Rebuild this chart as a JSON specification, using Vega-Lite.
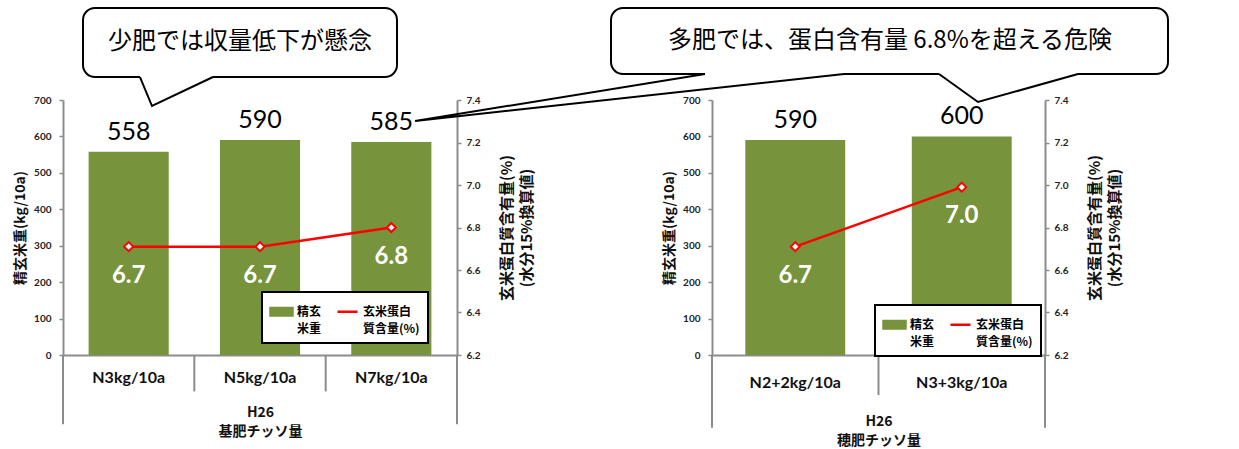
{
  "$schema": "https://vega.github.io/schema/vega-lite/v6.json",
  "background": "white",
  "padding": {"left": 13, "top": 7, "right": 5, "bottom": 5},
  "bounds": "flush",
  "spacing": 255,
  "config": {"view": {"stroke": null}, "axis": {"grid": false}},
  "resolve": {"scale": {"color": "independent"}, "legend": {"color": "independent"}},
  "hconcat": [
    {
      "width": 394,
      "height": 255,
      "data": {"values": [
        {"cat": "N3kg/10a", "yield": 558, "protein": 6.71, "plabel": "6.7"},
        {"cat": "N5kg/10a", "yield": 590, "protein": 6.71, "plabel": "6.7"},
        {"cat": "N7kg/10a", "yield": 585, "protein": 6.80, "plabel": "6.8"}
      ]},
      "layer": [
        {
          "encoding": {"x": {"field": "cat", "type": "nominal", "sort": null,
            "scale": {"paddingInner": 0.39, "paddingOuter": 0.195},
            "axis": {"title": ["H26", "基肥チッソ量"], "labelAngle": 0, "ticks": false, "tickSize": 0, "labelPadding": 14,
              "labelFont": "Lato", "labelFontWeight": "bold", "labelFontSize": 16, "labelColor": "#111",
              "domainColor": "#8c8c8c", "domainWidth": 2,
              "titleFont": "Noto Sans CJK JP", "titleFontSize": 14, "titleFontWeight": "bold", "titleColor": "#111", "titlePadding": 20, "titleLineHeight": 19}}},
          "resolve": {"scale": {"y": "independent"}},
          "layer": [
            {"layer": [
              {"mark": {"type": "bar"},
               "encoding": {
                 "y": {"field": "yield", "type": "quantitative", "scale": {"domain": [0, 700], "nice": false},
                   "axis": {"orient": "left", "values": [0, 100, 200, 300, 400, 500, 600, 700], "labelOverlap": false, "title": "精玄米重(kg/10a)",
                     "domainColor": "#8c8c8c", "domainWidth": 2, "tickColor": "#8c8c8c", "tickWidth": 1.5, "tickSize": 4,
                     "labelFont": "Lato", "labelFontWeight": "bold", "labelFontSize": 10, "labelColor": "#222", "labelPadding": 8,
                     "titleFont": "Noto Sans CJK JP", "titleFontSize": 14, "titleFontWeight": "bold", "titleColor": "#111", "titlePadding": 6}},
                 "color": {"datum": "精玄米重", "scale": {"domain": ["精玄米重", "玄米蛋白質含量(%)"], "range": ["#77933C", "#FF0000"]},
                   "legend": {"orient": "none", "legendX": 199, "legendY": 192, "direction": "horizontal", "columns": 2, "title": null,
                     "strokeColor": "black", "padding": 8, "fillColor": "white", "columnPadding": 10,
                     "labelFont": "Noto Sans CJK JP", "labelFontWeight": "bold", "labelFontSize": 12, "labelColor": "black",
                     "labelExpr": "datum.label == '精玄米重' ? ['精玄','米重'] : ['玄米蛋白','質含量(%)']",
                     "symbolSize": 400,
                     "encode": {
                       "legend": {"update": {"strokeWidth": {"value": 2}}},
                       "labels": {"update": {"lineHeight": {"value": 17}}},
                       "symbols": {"update": {
                         "shape": {"signal": "datum.value == '精玄米重' ? 'M-1.1,-0.38H1.1V0.38H-1.1Z' : 'stroke'"},
                         "fill": {"signal": "datum.value == '精玄米重' ? '#77933C' : 'transparent'"},
                         "stroke": {"signal": "datum.value == '精玄米重' ? 'transparent' : '#FF0000'"},
                         "strokeWidth": {"value": 2.5}}}}}}}},
              {"mark": {"type": "text", "baseline": "alphabetic", "dy": -12, "fontSize": 25, "font": "Lato", "color": "black"},
               "encoding": {
                 "y": {"field": "yield", "type": "quantitative",
                   "axis": {"orient": "left", "values": [0, 100, 200, 300, 400, 500, 600, 700], "labelOverlap": false, "title": "精玄米重(kg/10a)",
                     "domainColor": "#8c8c8c", "domainWidth": 2, "tickColor": "#8c8c8c", "tickWidth": 1.5, "tickSize": 4,
                     "labelFont": "Lato", "labelFontWeight": "bold", "labelFontSize": 10, "labelColor": "#222", "labelPadding": 8,
                     "titleFont": "Noto Sans CJK JP", "titleFontSize": 14, "titleFontWeight": "bold", "titleColor": "#111", "titlePadding": 6}},
                 "text": {"field": "yield", "type": "quantitative"}}}
            ]},
            {"layer": [
              {"mark": {"type": "line", "strokeWidth": 2.5},
               "encoding": {
                 "y": {"field": "protein", "type": "quantitative", "scale": {"domain": [6.2, 7.4], "nice": false, "zero": false},
                   "axis": {"orient": "right", "values": [6.2, 6.4, 6.6, 6.8, 7.0, 7.2, 7.4], "format": ".1f", "labelOverlap": false,
                     "title": ["玄米蛋白質含有量(%)", "(水分15%換算値)"], "titleAngle": 270, "titleBaseline": "top",
                     "domainColor": "#8c8c8c", "domainWidth": 2, "tickColor": "#8c8c8c", "tickWidth": 1.5, "tickSize": 4,
                     "labelFont": "Lato", "labelFontWeight": "bold", "labelFontSize": 10, "labelColor": "#222", "labelPadding": 5,
                     "titleFont": "Noto Sans CJK JP", "titleFontSize": 15, "titleFontWeight": "bold", "titleColor": "#111", "titlePadding": 0, "titleLineHeight": 20}},
                 "color": {"datum": "玄米蛋白質含量(%)"}}},
              {"mark": {"type": "point", "shape": "diamond", "filled": true, "fill": "white", "stroke": "#FF0000", "strokeWidth": 2, "size": 80, "opacity": 1},
               "encoding": {"y": {"field": "protein", "type": "quantitative"}}},
              {"mark": {"type": "text", "color": "white", "fontSize": 24, "fontWeight": "bold", "font": "Lato", "dy": 29},
               "encoding": {"y": {"field": "protein", "type": "quantitative"}, "text": {"field": "plabel"}}}
            ]}
          ]
        },
        {
          "layer": [
            {"data": {"values": [
              {"ax": 0, "ay": 0, "ay2": -190}, {"ax": 1, "ay": 0, "ay2": -100},
              {"ax": 2, "ay": 0, "ay2": -100}, {"ax": 3, "ay": 0, "ay2": -190}]},
             "mark": {"type": "rule", "color": "#8c8c8c", "strokeWidth": 2},
             "encoding": {
               "x": {"field": "ax", "type": "quantitative", "scale": {"domain": [0, 3], "nice": false, "zero": false}, "axis": null},
               "y": {"field": "ay", "type": "quantitative", "scale": {"domain": [0, 700], "nice": false, "zero": false}, "axis": null},
               "y2": {"field": "ay2"}}},
            {"data": {"values": [{"bx": 0.1523, "bx2": 2.5431, "by": 763.1, "by2": 952.5}]},
             "mark": {"type": "rect", "fill": "white", "stroke": "black", "strokeWidth": 2, "cornerRadius": 12},
             "encoding": {
               "x": {"field": "bx", "type": "quantitative", "axis": null}, "x2": {"field": "bx2"},
               "y": {"field": "by", "type": "quantitative", "axis": null}, "y2": {"field": "by2"}}},
            {"data": {"values": [{"cx": 0.5863, "cx2": 1.1421, "cy": 763.1}]},
             "mark": {"type": "rule", "color": "white", "strokeWidth": 4},
             "encoding": {
               "x": {"field": "cx", "type": "quantitative", "axis": null}, "x2": {"field": "cx2"},
               "y": {"field": "cy", "type": "quantitative", "axis": null}}},
            {"data": {"values": [
              {"g": "a", "o": 1, "tx": 0.5863, "ty": 763.1},
              {"g": "a", "o": 2, "tx": 0.6777, "ty": 683.5},
              {"g": "a", "o": 3, "tx": 1.1421, "ty": 763.1}]},
             "mark": {"type": "line", "color": "black", "strokeWidth": 2},
             "encoding": {
               "x": {"field": "tx", "type": "quantitative", "axis": null},
               "y": {"field": "ty", "type": "quantitative", "axis": null},
               "detail": {"field": "g"}, "order": {"field": "o"}}},
            {"data": {"values": [{"nx": 1.3477, "ny": 859.2, "note": "少肥では収量低下が懸念"}]},
             "mark": {"type": "text", "font": "Noto Sans CJK JP", "fontSize": 24, "color": "black"},
             "encoding": {
               "x": {"field": "nx", "type": "quantitative", "axis": null},
               "y": {"field": "ny", "type": "quantitative", "axis": null},
               "text": {"field": "note"}}}
          ]
        }
      ],
      "resolve": {"scale": {"x": "independent", "y": "independent"}}
    },
    {
      "width": 333,
      "height": 255,
      "data": {"values": [
        {"cat": "N2+2kg/10a", "yield": 590, "protein": 6.71, "plabel": "6.7"},
        {"cat": "N3+3kg/10a", "yield": 600, "protein": 6.99, "plabel": "7.0"}
      ]},
      "layer": [
        {
          "encoding": {"x": {"field": "cat", "type": "nominal", "sort": null,
            "scale": {"paddingInner": 0.4, "paddingOuter": 0.2},
            "axis": {"title": ["H26", "穂肥チッソ量"], "labelAngle": 0, "ticks": false, "tickSize": 0, "labelPadding": 19,
              "labelFont": "Lato", "labelFontWeight": "bold", "labelFontSize": 16, "labelColor": "#111",
              "domainColor": "#8c8c8c", "domainWidth": 2,
              "titleFont": "Noto Sans CJK JP", "titleFontSize": 14, "titleFontWeight": "bold", "titleColor": "#111", "titlePadding": 24, "titleLineHeight": 19}}},
          "resolve": {"scale": {"y": "independent"}},
          "layer": [
            {"layer": [
              {"mark": {"type": "bar"},
               "encoding": {
                 "y": {"field": "yield", "type": "quantitative", "scale": {"domain": [0, 700], "nice": false},
                   "axis": {"orient": "left", "values": [0, 100, 200, 300, 400, 500, 600, 700], "labelOverlap": false, "title": "精玄米重(kg/10a)",
                     "domainColor": "#8c8c8c", "domainWidth": 2, "tickColor": "#8c8c8c", "tickWidth": 1.5, "tickSize": 4,
                     "labelFont": "Lato", "labelFontWeight": "bold", "labelFontSize": 10, "labelColor": "#222", "labelPadding": 8,
                     "titleFont": "Noto Sans CJK JP", "titleFontSize": 14, "titleFontWeight": "bold", "titleColor": "#111", "titlePadding": 6}},
                 "color": {"datum": "精玄米重", "scale": {"domain": ["精玄米重", "玄米蛋白質含量(%)"], "range": ["#77933C", "#FF0000"]},
                   "legend": {"orient": "none", "legendX": 163, "legendY": 205, "direction": "horizontal", "columns": 2, "title": null,
                     "strokeColor": "black", "padding": 8, "fillColor": "white", "columnPadding": 10,
                     "labelFont": "Noto Sans CJK JP", "labelFontWeight": "bold", "labelFontSize": 12, "labelColor": "black",
                     "labelExpr": "datum.label == '精玄米重' ? ['精玄','米重'] : ['玄米蛋白','質含量(%)']",
                     "symbolSize": 400,
                     "encode": {
                       "legend": {"update": {"strokeWidth": {"value": 2}}},
                       "labels": {"update": {"lineHeight": {"value": 17}}},
                       "symbols": {"update": {
                         "shape": {"signal": "datum.value == '精玄米重' ? 'M-1.1,-0.38H1.1V0.38H-1.1Z' : 'stroke'"},
                         "fill": {"signal": "datum.value == '精玄米重' ? '#77933C' : 'transparent'"},
                         "stroke": {"signal": "datum.value == '精玄米重' ? 'transparent' : '#FF0000'"},
                         "strokeWidth": {"value": 2.5}}}}}}}},
              {"mark": {"type": "text", "baseline": "alphabetic", "dy": -12, "fontSize": 25, "font": "Lato", "color": "black"},
               "encoding": {
                 "y": {"field": "yield", "type": "quantitative",
                   "axis": {"orient": "left", "values": [0, 100, 200, 300, 400, 500, 600, 700], "labelOverlap": false, "title": "精玄米重(kg/10a)",
                     "domainColor": "#8c8c8c", "domainWidth": 2, "tickColor": "#8c8c8c", "tickWidth": 1.5, "tickSize": 4,
                     "labelFont": "Lato", "labelFontWeight": "bold", "labelFontSize": 10, "labelColor": "#222", "labelPadding": 8,
                     "titleFont": "Noto Sans CJK JP", "titleFontSize": 14, "titleFontWeight": "bold", "titleColor": "#111", "titlePadding": 6}},
                 "text": {"field": "yield", "type": "quantitative"}}}
            ]},
            {"layer": [
              {"mark": {"type": "line", "strokeWidth": 2.5},
               "encoding": {
                 "y": {"field": "protein", "type": "quantitative", "scale": {"domain": [6.2, 7.4], "nice": false, "zero": false},
                   "axis": {"orient": "right", "values": [6.2, 6.4, 6.6, 6.8, 7.0, 7.2, 7.4], "format": ".1f", "labelOverlap": false,
                     "title": ["玄米蛋白質含有量(%)", "(水分15%換算値)"], "titleAngle": 270, "titleBaseline": "top",
                     "domainColor": "#8c8c8c", "domainWidth": 2, "tickColor": "#8c8c8c", "tickWidth": 1.5, "tickSize": 4,
                     "labelFont": "Lato", "labelFontWeight": "bold", "labelFontSize": 10, "labelColor": "#222", "labelPadding": 5,
                     "titleFont": "Noto Sans CJK JP", "titleFontSize": 15, "titleFontWeight": "bold", "titleColor": "#111", "titlePadding": 0, "titleLineHeight": 20}},
                 "color": {"datum": "玄米蛋白質含量(%)"}}},
              {"mark": {"type": "point", "shape": "diamond", "filled": true, "fill": "white", "stroke": "#FF0000", "strokeWidth": 2, "size": 80, "opacity": 1},
               "encoding": {"y": {"field": "protein", "type": "quantitative"}}},
              {"mark": {"type": "text", "color": "white", "fontSize": 24, "fontWeight": "bold", "font": "Lato", "dy": 29},
               "encoding": {"y": {"field": "protein", "type": "quantitative"}, "text": {"field": "plabel"}}}
            ]}
          ]
        },
        {
          "layer": [
            {"data": {"values": [
              {"ax": 0, "ay": 0, "ay2": -200}, {"ax": 1, "ay": 0, "ay2": -110}, {"ax": 2, "ay": 0, "ay2": -200}]},
             "mark": {"type": "rule", "color": "#8c8c8c", "strokeWidth": 2},
             "encoding": {
               "x": {"field": "ax", "type": "quantitative", "scale": {"domain": [0, 2], "nice": false, "zero": false}, "axis": null},
               "y": {"field": "ay", "type": "quantitative", "scale": {"domain": [0, 700], "nice": false, "zero": false}, "axis": null},
               "y2": {"field": "ay2"}}},
            {"data": {"values": [{"bx": -0.6066, "bx2": 2.7387, "by": 771.4, "by2": 952.5}]},
             "mark": {"type": "rect", "fill": "white", "stroke": "black", "strokeWidth": 2, "cornerRadius": 12},
             "encoding": {
               "x": {"field": "bx", "type": "quantitative", "axis": null}, "x2": {"field": "bx2"},
               "y": {"field": "by", "type": "quantitative", "axis": null}, "y2": {"field": "by2"}}},
            {"data": {"values": [
              {"cx": 1.3634, "cx2": 2.1982, "cy": 771.4},
              {"cx": -0.042, "cx2": 0.7928, "cy": 771.4}]},
             "mark": {"type": "rule", "color": "white", "strokeWidth": 4},
             "encoding": {
               "x": {"field": "cx", "type": "quantitative", "axis": null}, "x2": {"field": "cx2"},
               "y": {"field": "cy", "type": "quantitative", "axis": null}}},
            {"data": {"values": [
              {"g": "b", "o": 1, "tx": 1.3634, "ty": 771.4},
              {"g": "b", "o": 2, "tx": 1.5976, "ty": 694.5},
              {"g": "b", "o": 3, "tx": 2.1982, "ty": 771.4},
              {"g": "l", "o": 1, "tx": -0.042, "ty": 771.4},
              {"g": "l", "o": 2, "tx": -1.7838, "ty": 642.4},
              {"g": "l", "o": 3, "tx": 0.7928, "ty": 771.4}]},
             "mark": {"type": "line", "color": "black", "strokeWidth": 2},
             "encoding": {
               "x": {"field": "tx", "type": "quantitative", "axis": null},
               "y": {"field": "ty", "type": "quantitative", "axis": null},
               "detail": {"field": "g"}, "order": {"field": "o"}}},
            {"data": {"values": [{"nx": 1.069, "ny": 862.0, "note": "多肥では、蛋白含有量 6.8%を超える危険"}]},
             "mark": {"type": "text", "font": "Noto Sans CJK JP", "fontSize": 24, "color": "black"},
             "encoding": {
               "x": {"field": "nx", "type": "quantitative", "axis": null},
               "y": {"field": "ny", "type": "quantitative", "axis": null},
               "text": {"field": "note"}}}
          ]
        }
      ],
      "resolve": {"scale": {"x": "independent", "y": "independent"}}
    }
  ]
}
